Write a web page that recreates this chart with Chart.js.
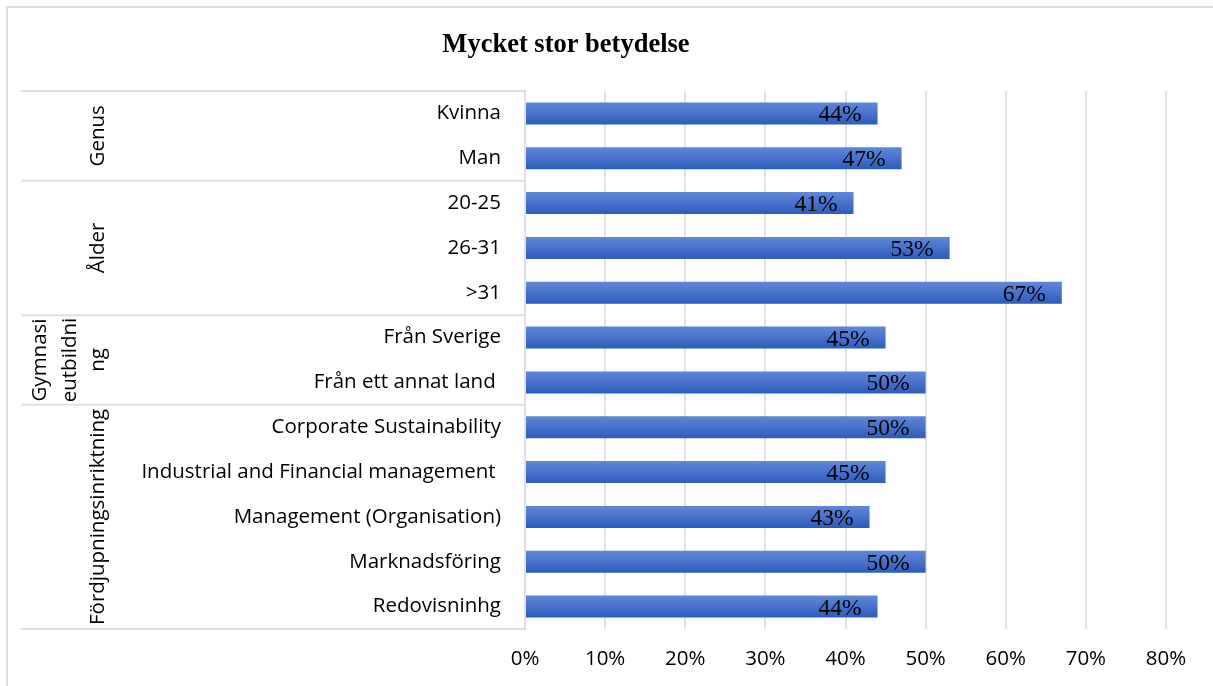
<!DOCTYPE html>
<html>
<head>
<meta charset="utf-8">
<script src="https://cdn.jsdelivr.net/npm/chart.js@4.4.1/dist/chart.umd.min.js"></script>
<style>
  html, body { margin: 0; padding: 0; background: #ffffff; }
  #wrap { width: 1213px; height: 686px; position: relative; }
</style>
</head>
<body>
<div id="wrap"><canvas id="c" width="1213" height="686"></canvas></div>
<script>
// ---- data ----
const chartTitle = "Mycket stor betydelse";
const categories = [
  "Kvinna", "Man",
  "20-25", "26-31", ">31",
  "Från Sverige", "Från ett annat land ",
  "Corporate Sustainability", "Industrial and Financial management ",
  "Management (Organisation)", "Marknadsföring", "Redovisninhg"
];
const values = [0.44, 0.47, 0.41, 0.53, 0.67, 0.45, 0.50, 0.50, 0.45, 0.43, 0.50, 0.44];
const groupNames = [["Genus"], ["Ålder"], ["Gymnasi", "eutbildni", "ng"], ["Fördjupningsinriktning"]];
const groupSizes = [2, 3, 2, 5];
const xTicks = [0, 0.1, 0.2, 0.3, 0.4, 0.5, 0.6, 0.7, 0.8];

// ---- styles ----
const SANS = "'Open Sans', Lato, sans-serif";
const SERIF = "'Liberation Serif', 'DejaVu Serif', serif";
const LINE = "#dde1e6";
const SANS_SIZE = 20.5;

function barFill(context) {
  const chart = context.chart;
  const ys = chart.scales && chart.scales.y;
  if (!chart.chartArea || !ys || context.dataIndex === undefined) return "#4472c4";
  const yc = ys.getPixelForValue(context.dataIndex);
  const g = chart.ctx.createLinearGradient(0, yc - 11, 0, yc + 11);
  g.addColorStop(0, "#5f87d8");
  g.addColorStop(0.5, "#4872cb");
  g.addColorStop(1, "#2c5cbc");
  return g;
}

const decorPlugin = {
  id: "decor",
  beforeDraw(chart) {
    const ctx = chart.ctx;
    ctx.save();
    ctx.fillStyle = "#ffffff";
    ctx.fillRect(0, 0, chart.width, chart.height);
    // outer frame (top + left)
    ctx.strokeStyle = "#d9dde3";
    ctx.lineWidth = 2;
    ctx.beginPath();
    ctx.moveTo(7, chart.height);
    ctx.lineTo(7, 7);
    ctx.lineTo(chart.width, 7);
    ctx.stroke();
    ctx.restore();
  },
  afterDraw(chart) {
    const ctx = chart.ctx;
    const ys = chart.scales.y;
    const area = chart.chartArea;
    ctx.save();
    // title
    ctx.fillStyle = "#000000";
    ctx.font = "bold 26.5px " + SERIF;
    ctx.textAlign = "center";
    ctx.textBaseline = "alphabetic";
    ctx.fillText(chartTitle, 566, 52);

    // group boxes
    const boundaries = [area.top];
    let idx = 0;
    groupSizes.forEach((n) => {
      idx += n;
      if (idx >= categories.length) boundaries.push(area.bottom);
      else boundaries.push((ys.getPixelForValue(idx - 1) + ys.getPixelForValue(idx)) / 2);
    });
    ctx.strokeStyle = LINE;
    ctx.lineWidth = 2;
    boundaries.forEach((b) => {
      ctx.beginPath();
      ctx.moveTo(21, b);
      ctx.lineTo(area.left, b);
      ctx.stroke();
    });

    // group labels (rotated)
    ctx.font = SANS_SIZE + "px " + SANS;
    ctx.fillStyle = "#000000";
    ctx.textAlign = "center";
    ctx.textBaseline = "alphabetic";
    groupNames.forEach((lines, gi) => {
      const yc = (boundaries[gi] + boundaries[gi + 1]) / 2;
      const baseXs = lines.length === 1 ? [104] : [46, 76, 104];
      lines.forEach((t, li) => {
        ctx.save();
        ctx.translate(baseXs[li], yc);
        ctx.rotate(-Math.PI / 2);
        ctx.fillText(t, 0, 0);
        ctx.restore();
      });
    });

    // data labels (inside end)
    const meta = chart.getDatasetMeta(0);
    ctx.font = "23.5px " + SERIF;
    ctx.textAlign = "right";
    ctx.textBaseline = "alphabetic";
    ctx.fillStyle = "#000000";
    meta.data.forEach((bar, i) => {
      ctx.fillText(Math.round(values[i] * 100) + "%", bar.x - 16, bar.y + 8);
    });
    ctx.restore();
  }
};

new Chart(document.getElementById("c"), {
  type: "bar",
  data: {
    labels: categories,
    datasets: [{
      data: values,
      backgroundColor: barFill,
      borderWidth: 0,
      barPercentage: 0.49,
      categoryPercentage: 1.0
    }]
  },
  options: {
    indexAxis: "y",
    responsive: false,
    animation: false,
    devicePixelRatio: 1,
    layout: { padding: { top: 91, right: 47, bottom: 7, left: 0 } },
    plugins: { legend: { display: false }, title: { display: false }, tooltip: { enabled: false } },
    scales: {
      x: {
        type: "linear",
        min: 0,
        max: 0.8,
        afterBuildTicks(scale) { scale.ticks = xTicks.map(v => ({ value: v })); },
        afterFit(scale) { scale.height = 50; },
        grid: { color: "#e1e4e9", lineWidth: 2, drawTicks: false },
        border: { display: false },
        ticks: {
          padding: 18,
          color: "#000000",
          font: { family: SANS, size: SANS_SIZE },
          callback: (v) => Math.round(v * 100) + "%"
        }
      },
      y: {
        type: "category",
        afterFit(scale) { scale.width = 525; },
        grid: { display: false, drawTicks: false },
        border: { display: true, color: LINE, width: 2 },
        ticks: {
          padding: 24,
          color: "#000000",
          autoSkip: false,
          font: { family: SANS, size: SANS_SIZE }
        }
      }
    }
  },
  plugins: [decorPlugin]
});
</script>
</body>
</html>
